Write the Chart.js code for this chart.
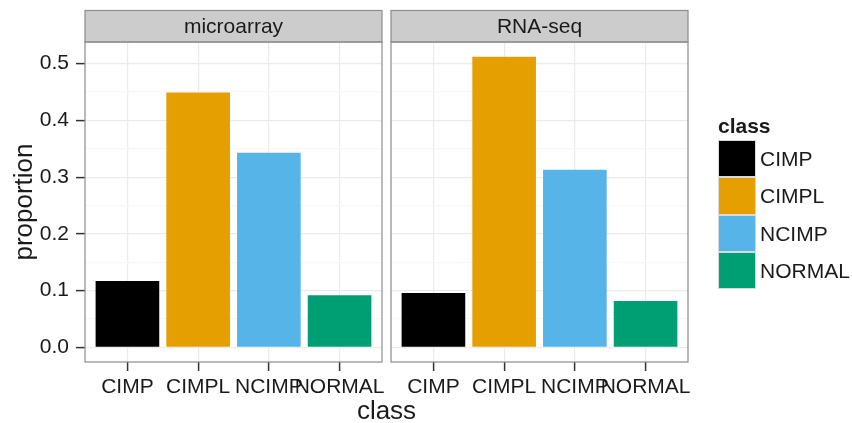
<!DOCTYPE html>
<html>
<head>
<meta charset="utf-8">
<script src="https://cdn.jsdelivr.net/npm/chart.js@4/dist/chart.umd.min.js"></script>
<style>
  html, body { margin: 0; padding: 0; background: #fff; }
  body { width: 852px; height: 423px; position: relative; overflow: hidden; font-family: "Liberation Sans", Arial, sans-serif; color: #1a1a1a; }
  canvas { position: absolute; left: 0; top: 0; }
  .lbl { position: absolute; white-space: nowrap; }
</style>
</head>
<body>
<canvas id="c1" width="852" height="423"></canvas>
<canvas id="c2" width="852" height="423"></canvas>
<div id="xtitle" class="lbl" style="left:0;width:773px;text-align:center;top:397px;font-size:26px;line-height:26px;">class</div>
<div id="legend"></div>
<script>
const categories = ['CIMP', 'CIMPL', 'NCIMP', 'NORMAL'];
const panels = ['microarray', 'RNA-seq'];
const microarrayValues = [0.117, 0.449, 0.343, 0.092];
const rnaseqValues = [0.096, 0.512, 0.313, 0.082];
const colors = ['#000000', '#E69F00', '#56B4E9', '#009E73'];
const yTicks = [0, 0.05, 0.1, 0.15, 0.2, 0.25, 0.3, 0.35, 0.4, 0.45, 0.5];
const legendTitle = 'class';
const yTitle = 'proportion';

const FONT = '"Liberation Sans", Arial, sans-serif';
const isMajor = v => Math.abs(Math.round(v * 10) - v * 10) < 1e-6;

function panelPlugin(label) {
  return {
    id: 'panel',
    afterDraw(chart) {
      const a = chart.chartArea, ctx = chart.ctx;
      ctx.save();
      ctx.fillStyle = '#CCCCCC';
      ctx.fillRect(a.left, 10, a.right - a.left, a.top - 10);
      ctx.strokeStyle = '#8C8C8C';
      ctx.lineWidth = 1.2;
      ctx.strokeRect(a.left, 10.5, a.right - a.left, a.top - 10.5);
      ctx.fillStyle = '#1a1a1a';
      ctx.font = '21px ' + FONT;
      ctx.textAlign = 'center';
      ctx.textBaseline = 'middle';
      ctx.fillText(label, (a.left + a.right) / 2, (10 + a.top) / 2 + 1);
      ctx.strokeStyle = '#8C8C8C';
      ctx.strokeRect(a.left, a.top, a.right - a.left, a.bottom - a.top);
      ctx.restore();
    }
  };
}

function makeChart(id, label, values, showY, padLeft, padRight) {
  return new Chart(document.getElementById(id), {
    type: 'bar',
    data: {
      datasets: [{
        data: values.map((v, i) => ({ x: i + 1, y: v })),
        backgroundColor: colors,
        borderWidth: 0,
        barPercentage: 0.9,
        categoryPercentage: 1.0
      }]
    },
    options: {
      responsive: false,
      animation: false,
      devicePixelRatio: 1,
      layout: { padding: { left: padLeft, right: padRight, top: 42, bottom: 0 } },
      plugins: { legend: { display: false }, tooltip: { enabled: false } },
      scales: {
        x: {
          type: 'linear',
          offset: false,
          min: 0.4, max: 4.6,
          afterBuildTicks: s => { s.ticks = categories.map((c, i) => ({ value: i + 1 })); },
          afterFit: s => { s.height = 61; },
          border: { display: false },
          grid: { offset: false, color: '#EBEBEB', lineWidth: 1.2, drawTicks: true, tickLength: 9, tickColor: '#333333', tickWidth: 1.5 },
          ticks: {
            autoSkip: false, maxRotation: 0, minRotation: 0, padding: 4,
            color: '#1a1a1a', font: { family: FONT, size: 21 },
            callback: v => categories[Math.round(v) - 1]
          }
        },
        y: {
          min: -0.0256, max: 0.538,
          afterBuildTicks: s => { s.ticks = yTicks.map(v => ({ value: v })); },
          afterFit: s => { s.width = showY ? 85 : 0; },
          border: { display: false },
          grid: {
            color: c => isMajor(c.tick.value) ? '#EBEBEB' : '#F7F7F7',
            lineWidth: 1.2,
            drawTicks: showY, tickLength: 9, tickWidth: 1.5,
            tickColor: c => isMajor(c.tick.value) ? '#333333' : 'rgba(0,0,0,0)'
          },
          ticks: {
            display: showY, padding: 7, color: '#1a1a1a', font: { family: FONT, size: 21 },
            callback: v => isMajor(v) ? v.toFixed(1) : ''
          },
          title: {
            display: showY, text: yTitle, color: '#1a1a1a',
            font: { family: FONT, size: 26 }, padding: { top: 9, bottom: 0 }
          }
        }
      }
    },
    plugins: [panelPlugin(label)]
  });
}

makeChart('c1', panels[0], microarrayValues, true, 0, 852 - 382);
makeChart('c2', panels[1], rnaseqValues, false, 391, 852 - 688);

const lg = document.getElementById('legend');
let html = `<div class="lbl" style="left:718px;top:115px;font-size:21px;line-height:21px;font-weight:bold;">${legendTitle}</div>`;
categories.forEach((c, i) => {
  const top = 140 + i * 37.3;
  html += `<div style="position:absolute;left:718px;top:${top}px;width:38px;height:37.3px;box-sizing:border-box;background:${colors[i]};border:1px solid #D9D9D9;"></div>`;
  html += `<div class="lbl" style="left:760px;top:${top}px;font-size:21px;line-height:37px;">${c}</div>`;
});
lg.innerHTML = html;
</script>
</body>
</html>
